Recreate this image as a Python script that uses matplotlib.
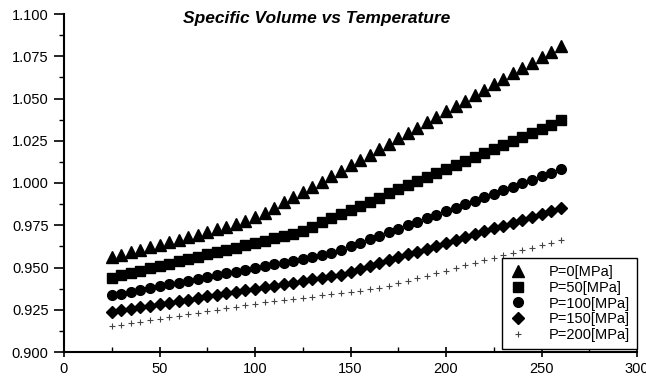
import matplotlib
matplotlib.use('Agg')
import matplotlib.pyplot as plt
from matplotlib.ticker import MultipleLocator, FormatStrFormatter

plt.rcParams['font.family'] = ['Liberation Sans', 'DejaVu Sans']

# Temperature (x) values
temperature = list(range(25, 261, 5))

# Specific volume for each pressure
p0 = [0.9560, 0.9575, 0.9590, 0.9605, 0.9620, 0.9635, 0.9650, 0.9665,
      0.9680, 0.9695, 0.9710, 0.9725, 0.9740, 0.9757, 0.9775, 0.9797,
      0.9825, 0.9855, 0.9885, 0.9915, 0.9945,
      0.9976, 1.0008, 1.0040, 1.0072, 1.0104, 1.0136, 1.0168, 1.0200,
      1.0232, 1.0264, 1.0296, 1.0328, 1.0360, 1.0392, 1.0424, 1.0456,
      1.0488, 1.0520, 1.0552, 1.0584, 1.0616, 1.0648, 1.0680, 1.0712,
      1.0744, 1.0776, 1.0808]
p50 = [0.9440, 0.9454, 0.9468, 0.9481, 0.9495, 0.9509, 0.9522, 0.9536,
       0.9550, 0.9563, 0.9577, 0.9591, 0.9604, 0.9618, 0.9632, 0.9645,
       0.9659, 0.9672, 0.9685, 0.9697, 0.9718, 0.9742, 0.9768, 0.9793,
       0.9818, 0.9842, 0.9866, 0.9890, 0.9914, 0.9938, 0.9962, 0.9986,
       1.0010, 1.0034, 1.0058, 1.0082, 1.0106, 1.0130, 1.0154, 1.0178,
       1.0202, 1.0226, 1.0250, 1.0274, 1.0298, 1.0322, 1.0346, 1.0370]
p100 = [0.9335, 0.9346, 0.9357, 0.9367, 0.9378, 0.9389, 0.9400, 0.9411,
        0.9421, 0.9432, 0.9443, 0.9454, 0.9465, 0.9475, 0.9486, 0.9497,
        0.9508, 0.9519, 0.9529, 0.9540, 0.9551, 0.9562, 0.9574, 0.9588,
        0.9606, 0.9626, 0.9647, 0.9668, 0.9688, 0.9709, 0.9730, 0.9750,
        0.9771, 0.9792, 0.9812, 0.9833, 0.9854, 0.9874, 0.9895, 0.9916,
        0.9936, 0.9957, 0.9978, 0.9998, 1.0019, 1.0040, 1.0060, 1.0081]
p150 = [0.9237, 0.9246, 0.9255, 0.9265, 0.9274, 0.9283, 0.9292, 0.9301,
        0.9310, 0.9320, 0.9329, 0.9338, 0.9347, 0.9356, 0.9365, 0.9375,
        0.9384, 0.9393, 0.9402, 0.9411, 0.9420, 0.9430, 0.9439, 0.9448,
        0.9458, 0.9474, 0.9491, 0.9508, 0.9525, 0.9542, 0.9560, 0.9577,
        0.9594, 0.9611, 0.9628, 0.9645, 0.9662, 0.9679, 0.9697, 0.9714,
        0.9731, 0.9748, 0.9765, 0.9782, 0.9799, 0.9816, 0.9833, 0.9850]
p200 = [0.9152, 0.9161, 0.9170, 0.9179, 0.9188, 0.9197, 0.9205, 0.9214,
        0.9223, 0.9232, 0.9241, 0.9250, 0.9259, 0.9268, 0.9277, 0.9286,
        0.9293, 0.9300, 0.9307, 0.9314, 0.9321, 0.9328, 0.9335, 0.9342,
        0.9349, 0.9356, 0.9363, 0.9370, 0.9377, 0.9392, 0.9407, 0.9422,
        0.9437, 0.9452, 0.9467, 0.9482, 0.9497, 0.9512, 0.9527, 0.9542,
        0.9557, 0.9572, 0.9587, 0.9602, 0.9617, 0.9632, 0.9647, 0.9662]

labels = ['P=0[MPa]', 'P=50[MPa]', 'P=100[MPa]', 'P=150[MPa]', 'P=200[MPa]']

fig = plt.figure(figsize=(6.46, 3.76), dpi=100)
ax = fig.add_axes([64 / 646, 1 - 352 / 376, 573 / 646, 338 / 376])

ax.plot(temperature, p0, linestyle='none', marker='^', ms=8, color='black', label=labels[0])
ax.plot(temperature, p50, linestyle='none', marker='s', ms=6.5, color='black', label=labels[1])
ax.plot(temperature, p100, linestyle='none', marker='o', ms=7, color='black', label=labels[2])
ax.plot(temperature, p150, linestyle='none', marker='D', ms=6.3, color='black', label=labels[3])
ax.plot(temperature, p200, linestyle='none', marker='+', ms=5, mew=0.8, color='#444444', label=labels[4])

ax.set_xlim(0, 300)
ax.set_ylim(0.9, 1.1)
ax.xaxis.set_major_locator(MultipleLocator(50))
ax.xaxis.set_minor_locator(MultipleLocator(25))
ax.yaxis.set_major_locator(MultipleLocator(0.025))
ax.yaxis.set_minor_locator(MultipleLocator(0.0125))
ax.yaxis.set_major_formatter(FormatStrFormatter('%.3f'))

ax.spines['top'].set_visible(False)
ax.spines['right'].set_visible(False)
ax.spines['left'].set_linewidth(1.5)
ax.spines['bottom'].set_linewidth(1.5)

ax.tick_params(axis='y', which='major', direction='out', length=7, width=1.2, pad=4, labelsize=10.5)
ax.tick_params(axis='y', which='minor', direction='out', length=3.5, width=1.0)
ax.tick_params(axis='x', which='major', direction='inout', length=7, width=1.2, pad=4, labelsize=10.5)
ax.tick_params(axis='x', which='minor', direction='in', length=3.5, width=1.0)

# Titre
fig.text(317 / 646, 1 - 18 / 376, 'Specific Volume vs Temperature', ha='center', va='center',
         fontsize=12.5, fontweight='bold', fontstyle='italic')

# Légende en bas à droite
leg = ax.legend(loc='lower right', bbox_to_anchor=(1.0, 0.008), fontsize=10.5,
                frameon=True, fancybox=False, framealpha=1, edgecolor='black',
                handlelength=1.2, handletextpad=1.5, borderpad=0.5, labelspacing=0.12,
                borderaxespad=0)
leg.get_frame().set_linewidth(1.0)

fig.savefig('out.png', dpi=100)
